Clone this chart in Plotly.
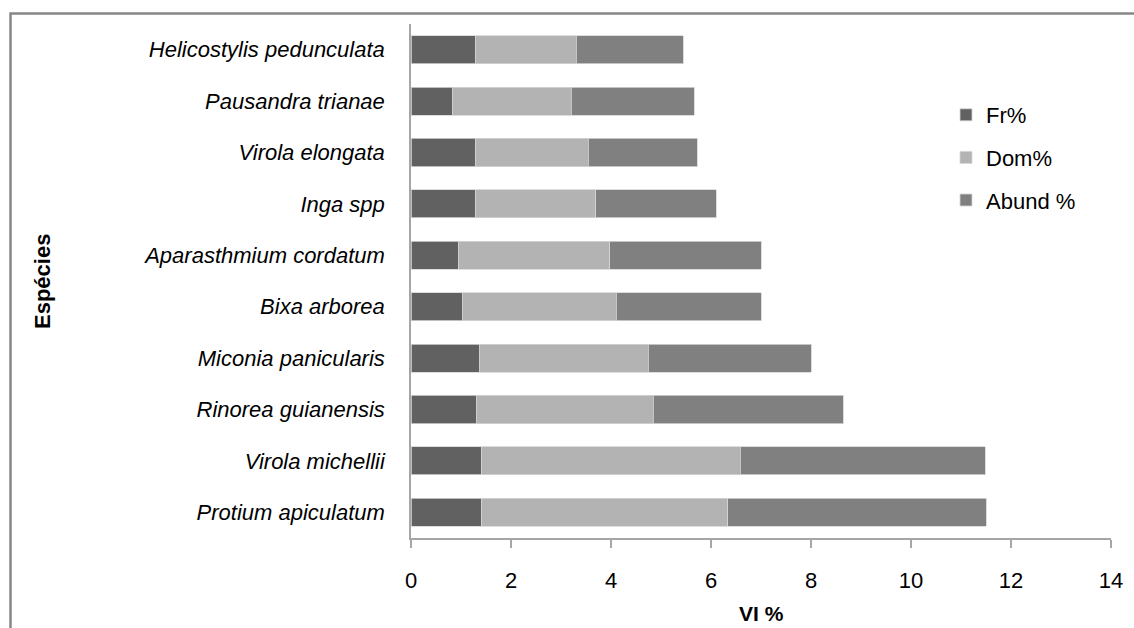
import plotly.graph_objects as go

species = ["Protium apiculatum", "Virola michellii", "Rinorea guianensis",
           "Miconia panicularis", "Bixa arborea", "Aparasthmium cordatum",
           "Inga spp", "Virola elongata", "Pausandra trianae",
           "Helicostylis pedunculata"]
fr = [1.41, 1.41, 1.30, 1.36, 1.02, 0.95, 1.28, 1.28, 0.82, 1.28]
dom = [4.92, 5.17, 3.54, 3.38, 3.08, 3.02, 2.41, 2.26, 2.38, 2.02]
abund = [5.17, 4.90, 3.80, 3.26, 2.90, 3.03, 2.41, 2.18, 2.46, 2.14]

series = [("Fr%", fr, "#616161"), ("Dom%", dom, "#b3b3b3"), ("Abund %", abund, "#808080")]

FONT = "Liberation Sans, Arial, sans-serif"
fig = go.Figure()
for name, vals, col in series:
    fig.add_trace(go.Bar(
        y=species, x=vals, name=name, orientation="h",
        marker=dict(color=col, line=dict(color="#d4d4d4", width=0.8)),
        legendgroup=name,
    ))

W, H = 1134, 628
L, R, T, B = 411, 23, 24, 90
pw, ph = W - L - R, H - T - B

def px_x(p):
    return (p - L) / pw

def px_y(p):
    return (H - B - p) / ph

fig.update_layout(
    width=W, height=H,
    margin=dict(l=L, r=R, t=T, b=B),
    barmode="stack", bargap=0.455,
    plot_bgcolor="white", paper_bgcolor="white",
    font=dict(family=FONT, size=22, color="#000000"),
    showlegend=True,
    legend=dict(
        x=px_x(946), y=px_y(94), xanchor="left", yanchor="top",
        traceorder="grouped", tracegroupgap=11,
        font=dict(family=FONT, size=22, color="#000000"),
        bgcolor="rgba(0,0,0,0)",
    ),
    xaxis=dict(
        range=[0, 14], dtick=2, tick0=0,
        showgrid=False, zeroline=False,
        showline=True, linecolor="#a6a6a6", linewidth=1.5,
        ticks="outside", ticklen=8, tickcolor="#a6a6a6", tickwidth=1.5,
        ticklabelstandoff=14,
        tickfont=dict(family=FONT, size=22, color="#000000"),
    ),
    yaxis=dict(
        showgrid=False, zeroline=False,
        showline=True, linecolor="#a6a6a6", linewidth=1.5,
        ticks="", ticklabelstandoff=20,
        tickfont=dict(family=FONT, size=22, style="italic", color="#000000"),
    ),
    annotations=[
        dict(text="<b>VI %</b>", xref="paper", yref="paper",
             x=px_x(761), y=px_y(613), xanchor="center", yanchor="middle",
             showarrow=False, font=dict(family=FONT, size=21, color="#000000")),
        dict(text="<b>Espécies</b>", xref="paper", yref="paper",
             x=px_x(42), y=px_y(282), xanchor="center", yanchor="middle",
             textangle=-90, showarrow=False,
             font=dict(family=FONT, size=22, color="#000000")),
    ],
    shapes=[dict(
        type="rect", xref="paper", yref="paper",
        x0=px_x(10.5), x1=px_x(1145), y0=px_y(645), y1=px_y(13.5),
        line=dict(color="#878787", width=2.5), fillcolor="rgba(0,0,0,0)", layer="below",
    )],
)

fig.write_html("out.html", config={"displayModeBar": False},
               post_script="document.body.style.margin='0';document.body.style.overflow='hidden';")
